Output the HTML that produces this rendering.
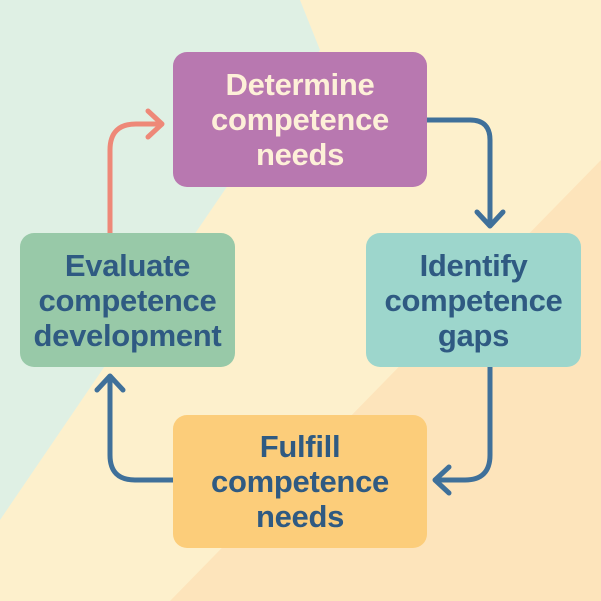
<!DOCTYPE html>
<html><head><style>
html,body{margin:0;padding:0;width:601px;height:601px;overflow:hidden}
.b{position:absolute;border-radius:14px;display:flex;align-items:center;justify-content:center;text-align:center;font-family:"Liberation Sans",sans-serif;font-size:31px;font-weight:bold;line-height:35px;color:#2f5a82;letter-spacing:-0.3px}
</style></head><body>
<svg width="601" height="601" style="position:absolute;left:0;top:0">
<rect width="601" height="601" fill="#fdf0cc"/>
<polygon points="0,0 300,0 320,50 0,520" fill="#dff0e4"/>
<polygon points="601,160 601,601 170,601" fill="#fde4bb"/>
<g fill="none" stroke-width="5" stroke-linecap="round" stroke-linejoin="round">
<path d="M110,233 V150 Q110,124 136,124 H160" stroke="#ee8878"/>
<path d="M148,111 L162,124 L148,137" stroke="#ee8878"/>
<path d="M427,120 H470 Q490,120 490,140 V225" stroke="#3f709a"/>
<path d="M477,212 L490,226 L503,212" stroke="#3f709a"/>
<path d="M490,367 V455 Q490,480 465,480 H436" stroke="#3f709a"/>
<path d="M449,467 L435,480 L449,493" stroke="#3f709a"/>
<path d="M173,480 H135 Q110,480 110,455 V377" stroke="#3f709a"/>
<path d="M97,390 L110,376 L123,390" stroke="#3f709a"/>
</g>
</svg>
<div class="b" style="left:173px;top:52px;width:254px;height:135px;background:#b878b0;color:#fdf0d8">Determine<br>competence<br>needs</div>
<div class="b" style="left:20px;top:233px;width:215px;height:134px;background:#98c9a8">Evaluate<br>competence<br>development</div>
<div class="b" style="left:366px;top:233px;width:215px;height:134px;background:#9dd6cc">Identify<br>competence<br>gaps</div>
<div class="b" style="left:173px;top:415px;width:254px;height:133px;background:#fccd7a">Fulfill<br>competence<br>needs</div>
</body></html>
